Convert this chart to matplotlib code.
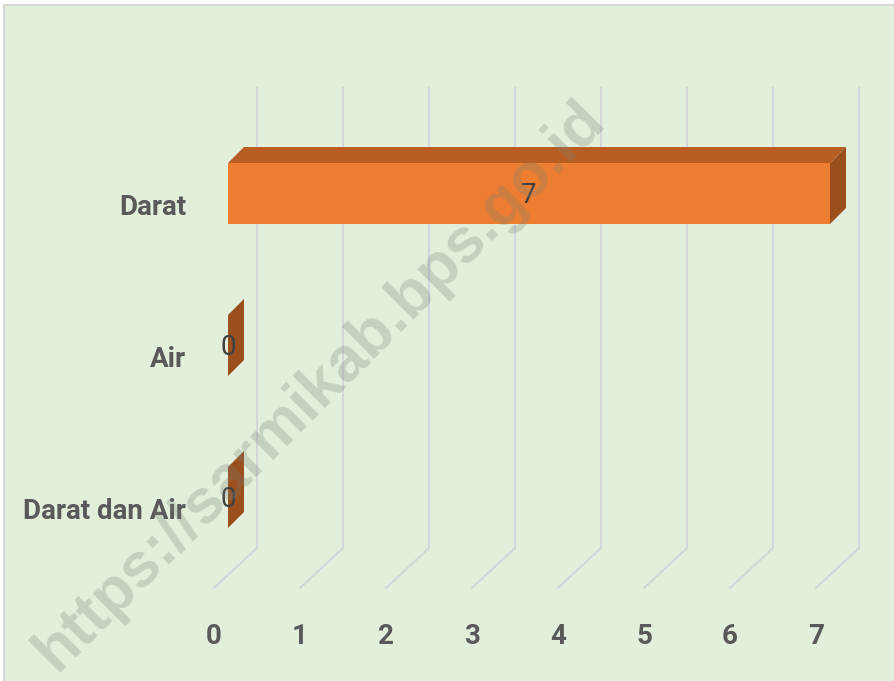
import matplotlib
matplotlib.use("Agg")
import matplotlib.pyplot as plt
from matplotlib.patches import Polygon, Rectangle

plt.rcParams['font.family'] = ['Roboto', 'DejaVu Sans']

# data
categories = ['Darat', 'Air', 'Darat dan Air']
values = [7, 0, 0]
ticks = [0, 1, 2, 3, 4, 5, 6, 7]

# colours
bg = '#E2EFDA'
front_c = '#ED7D31'
top_c = '#B95E22'
side_c = '#9B4F1D'
grid_c = '#D2D6D8'
text_c = '#595959'

W, H = 895, 681
fig = plt.figure(figsize=(W / 100, H / 100), dpi=100, facecolor='white')
fig.patches.append(Rectangle((4 / W, -0.01), 1.02, 1 - 5 / H + 0.01, transform=fig.transFigure,
                             facecolor=bg, edgecolor='#D6D6D6', linewidth=1.5, zorder=-1))

ax = fig.add_axes([0, 0, 1, 1], zorder=1)
ax.set_facecolor('none')
ax.axis('off')

# pixel scale of the value/category axes
PX, PY = 86.0, 152.0
x0, y0 = 228.0, 193.5
ax.set_xlim(-x0 / PX, (W - x0) / PX)
ax.set_ylim((H - y0) / PY, -y0 / PY)

# 3d depth offsets (in data units)
bdx, bdy = 16 / PX, -16 / PY
bh = 61 / PY
wall_dx = 29 / PX
floor_dx = -14 / PX
grid_top = (88 - y0) / PY
grid_bend = (548 - y0) / PY
grid_front = (588 - y0) / PY

# gridlines: back wall and floor
for t in ticks:
    ax.plot([t + wall_dx, t + wall_dx, t + floor_dx], [grid_top, grid_bend, grid_front],
            color=grid_c, lw=1.4, zorder=1, solid_joinstyle='miter')
    ax.text(t + floor_dx, (636 - y0) / PY, str(t), ha='center', va='center',
            fontsize=20, color=text_c, weight='bold', zorder=5)

# bars
ypos = list(range(len(categories)))
ax.barh(ypos, values, height=bh, left=0, color=front_c, zorder=3)
for i, v in zip(ypos, values):
    top = i - bh / 2
    bot = i + bh / 2
    if v > 0:
        ax.add_patch(Polygon([(0, top), (v, top), (v + bdx, top + bdy), (bdx, top + bdy)],
                             closed=True, facecolor=top_c, edgecolor='none', zorder=3))
    ax.add_patch(Polygon([(v, top), (v + bdx, top + bdy), (v + bdx, bot + bdy), (v, bot)],
                         closed=True, facecolor=side_c, edgecolor='none', zorder=3))
    ax.text(v / 2, i + 0.01, str(v), ha='center', va='center', fontsize=20, color='#404040', zorder=6)
    ax.text((186 - x0) / PX, i + 0.09, categories[i], ha='right', va='center',
            fontsize=20, color=text_c, weight='bold', zorder=5)

# watermark
fig.text(320 / W, 1 - 386 / H, 'https://sarmikab.bps.go.id', rotation=45, ha='center', va='center',
         rotation_mode='anchor', fontsize=45, weight='bold', family='Liberation Sans',
         color=(0.47, 0.51, 0.47), alpha=0.27, zorder=10)

fig.savefig('out.png', dpi=100, facecolor=fig.get_facecolor())
